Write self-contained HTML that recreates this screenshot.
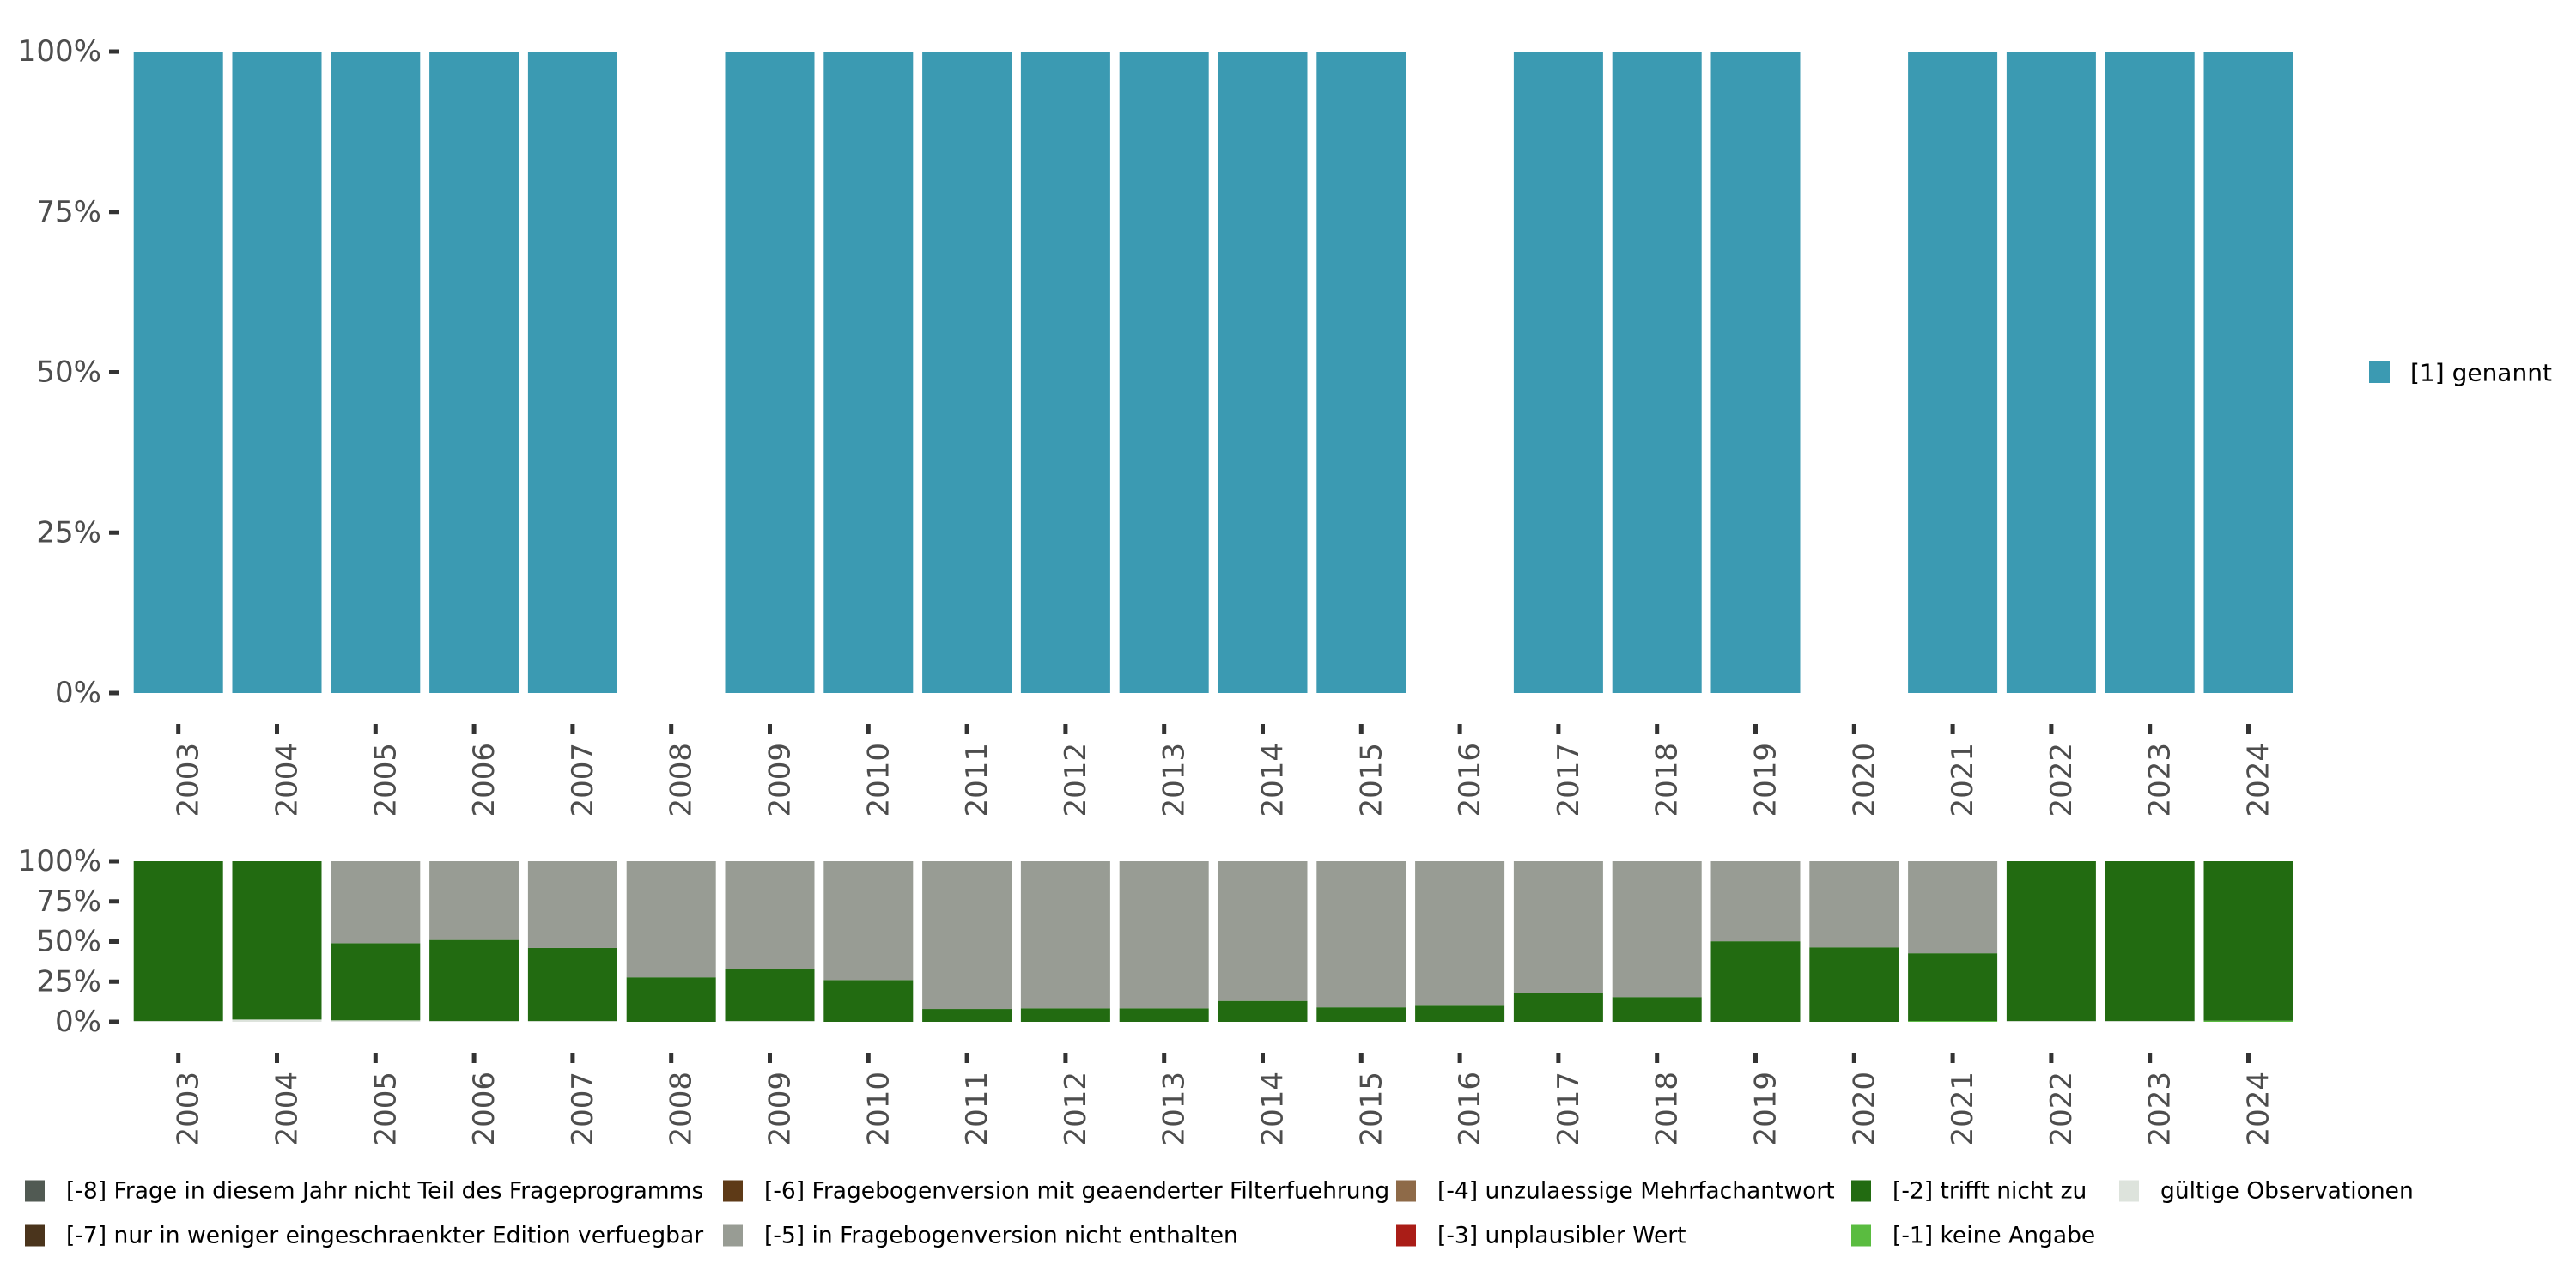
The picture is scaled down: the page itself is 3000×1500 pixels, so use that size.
<!DOCTYPE html>
<html><head><meta charset="utf-8"><style>
html,body{margin:0;padding:0;background:#fff;}
svg{display:block;font-family:"DejaVu Sans","Liberation Sans",sans-serif;}
</style></head><body>
<svg id="chart" width="3000" height="1500" viewBox="0 0 3000 1500" xmlns="http://www.w3.org/2000/svg"></svg>
<script>
const years = ["2003","2004","2005","2006","2007","2008","2009","2010","2011","2012","2013","2014","2015","2016","2017","2018","2019","2020","2021","2022","2023","2024"];
const genannt = [100,100,100,100,100,null,100,100,100,100,100,100,100,null,100,100,100,null,100,100,100,100];
const gueltig = [0.5,1.4,0.9,0.5,0.5,0,0.5,0,0,0,0,0,0,0,0,0,0,0,0,0.5,0.5,0];
const keineAngabe = [0,0,0,0,0,0,0,0,0,0,0,0,0,0,0,0,0,0,0.5,0,0,0.7];
const trifftNicht = [99.5,98.6,48.1,50.5,45.5,27.7,32.5,26,8,8.4,8.4,13,9,10,18,15.4,50.2,46.4,42.2,99.5,99.5,99.3];
const nichtEnthalten = [0,0,51,49,54,72.3,67,74,92,91.6,91.6,87,91,90,82,84.6,49.8,53.6,57.3,0,0,0];
const yTicks = [0,25,50,75,100];
const yTickLabels = ["0%","25%","50%","75%","100%"];
const legendItems = [
 ["[-8] Frage in diesem Jahr nicht Teil des Frageprogramms","#515A53"],
 ["[-7] nur in weniger eingeschraenkter Edition verfuegbar","#4A341C"],
 ["[-6] Fragebogenversion mit geaenderter Filterfuehrung","#5E3A17"],
 ["[-5] in Fragebogenversion nicht enthalten","#989C94"],
 ["[-4] unzulaessige Mehrfachantwort","#8E6A48"],
 ["[-3] unplausibler Wert","#AA1D17"],
 ["[-2] trifft nicht zu","#226B11"],
 ["[-1] keine Angabe","#5ABC40"],
 ["gültige Observationen","#DDE3DC"]
];
const NS="http://www.w3.org/2000/svg";
const svg=document.getElementById('chart');
function el(t,a,p){const e=document.createElementNS(NS,t);for(const k in a)e.setAttribute(k,a[k]);(p||svg).appendChild(e);return e;}
const x0=207.7, pitch=114.8, bw=104;
const xc=i=>x0+i*pitch;
function panel(name,yTop,yBot){
  const g=el('g',{});
  
  
  const ys=v=>yBot-(v/100)*(yBot-yTop);
  yTicks.forEach((t,i)=>{
    const tk=el('rect',{x:127,y:ys(t)-2.5,width:12,height:5,fill:'#333'},g);
    
    
    const tx=el('text',{x:118,y:ys(t),'text-anchor':'end','dominant-baseline':'central','font-size':34,fill:'#4d4d4d'},g);
    
    
    tx.textContent=yTickLabels[i];
  });
  years.forEach((yr,i)=>{
    const tk=el('rect',{x:xc(i)-2.5,y:yBot+36,width:5,height:12,fill:'#333'},g);
    
    
    const tx=el('text',{transform:`translate(${xc(i)+12},${yBot+58}) rotate(-90)`,'text-anchor':'end','dominant-baseline':'central','font-size':34,fill:'#4d4d4d'},g);
    
    
    tx.textContent=yr;
  });
  return {g,ys};
}
const topPanel=panel('top-panel',60,807);
genannt.forEach((v,i)=>{
  if(v==null)return;
  const r=el('rect',{x:xc(i)-bw/2,y:topPanel.ys(v),width:bw,height:topPanel.ys(0)-topPanel.ys(v),fill:'#3B9AB2'},topPanel.g);
  
  
});
const botPanel=panel('bottom-panel',1003,1190);
const stack=[[gueltig,'#DDE3DC','gueltig'],[keineAngabe,'#5ABC40','keine-angabe'],[trifftNicht,'#226B11','trifft-nicht-zu'],[nichtEnthalten,'#989C94','nicht-enthalten']];
years.forEach((yr,i)=>{
  let cum=0;
  stack.forEach(([arr,col,nm])=>{
    const v=arr[i]; if(!v)return;
    const hi=Math.min(100,cum+v);
    const r=el('rect',{x:xc(i)-bw/2,y:botPanel.ys(hi),width:bw,height:botPanel.ys(cum)-botPanel.ys(hi),fill:col},botPanel.g);
    
    
    cum+=v;
  });
});
const lg=el('g',{});


const lk=el('rect',{x:2759,y:421,width:24,height:25,fill:'#3B9AB2'},lg);


const lt=el('text',{x:2807,y:434,'dominant-baseline':'central','font-size':28,fill:'#000'},lg);


lt.textContent='[1] genannt';
const bl=el('g',{});


const colX=[29,842,1626,2156,2468];
const rowY=[1387,1439];
legendItems.forEach((it,k)=>{
  const c=Math.floor(k/2), r=k%2;
  const kx=colX[c], ky=rowY[r];
  const key=el('rect',{x:kx,y:ky-12.5,width:23,height:25,fill:it[1]},bl);
  
  
  const t=el('text',{x:kx+48,y:ky,'dominant-baseline':'central','font-size':26.5,fill:'#000'},bl);
  
  
  t.textContent=it[0];
});
</script>
</body></html>
